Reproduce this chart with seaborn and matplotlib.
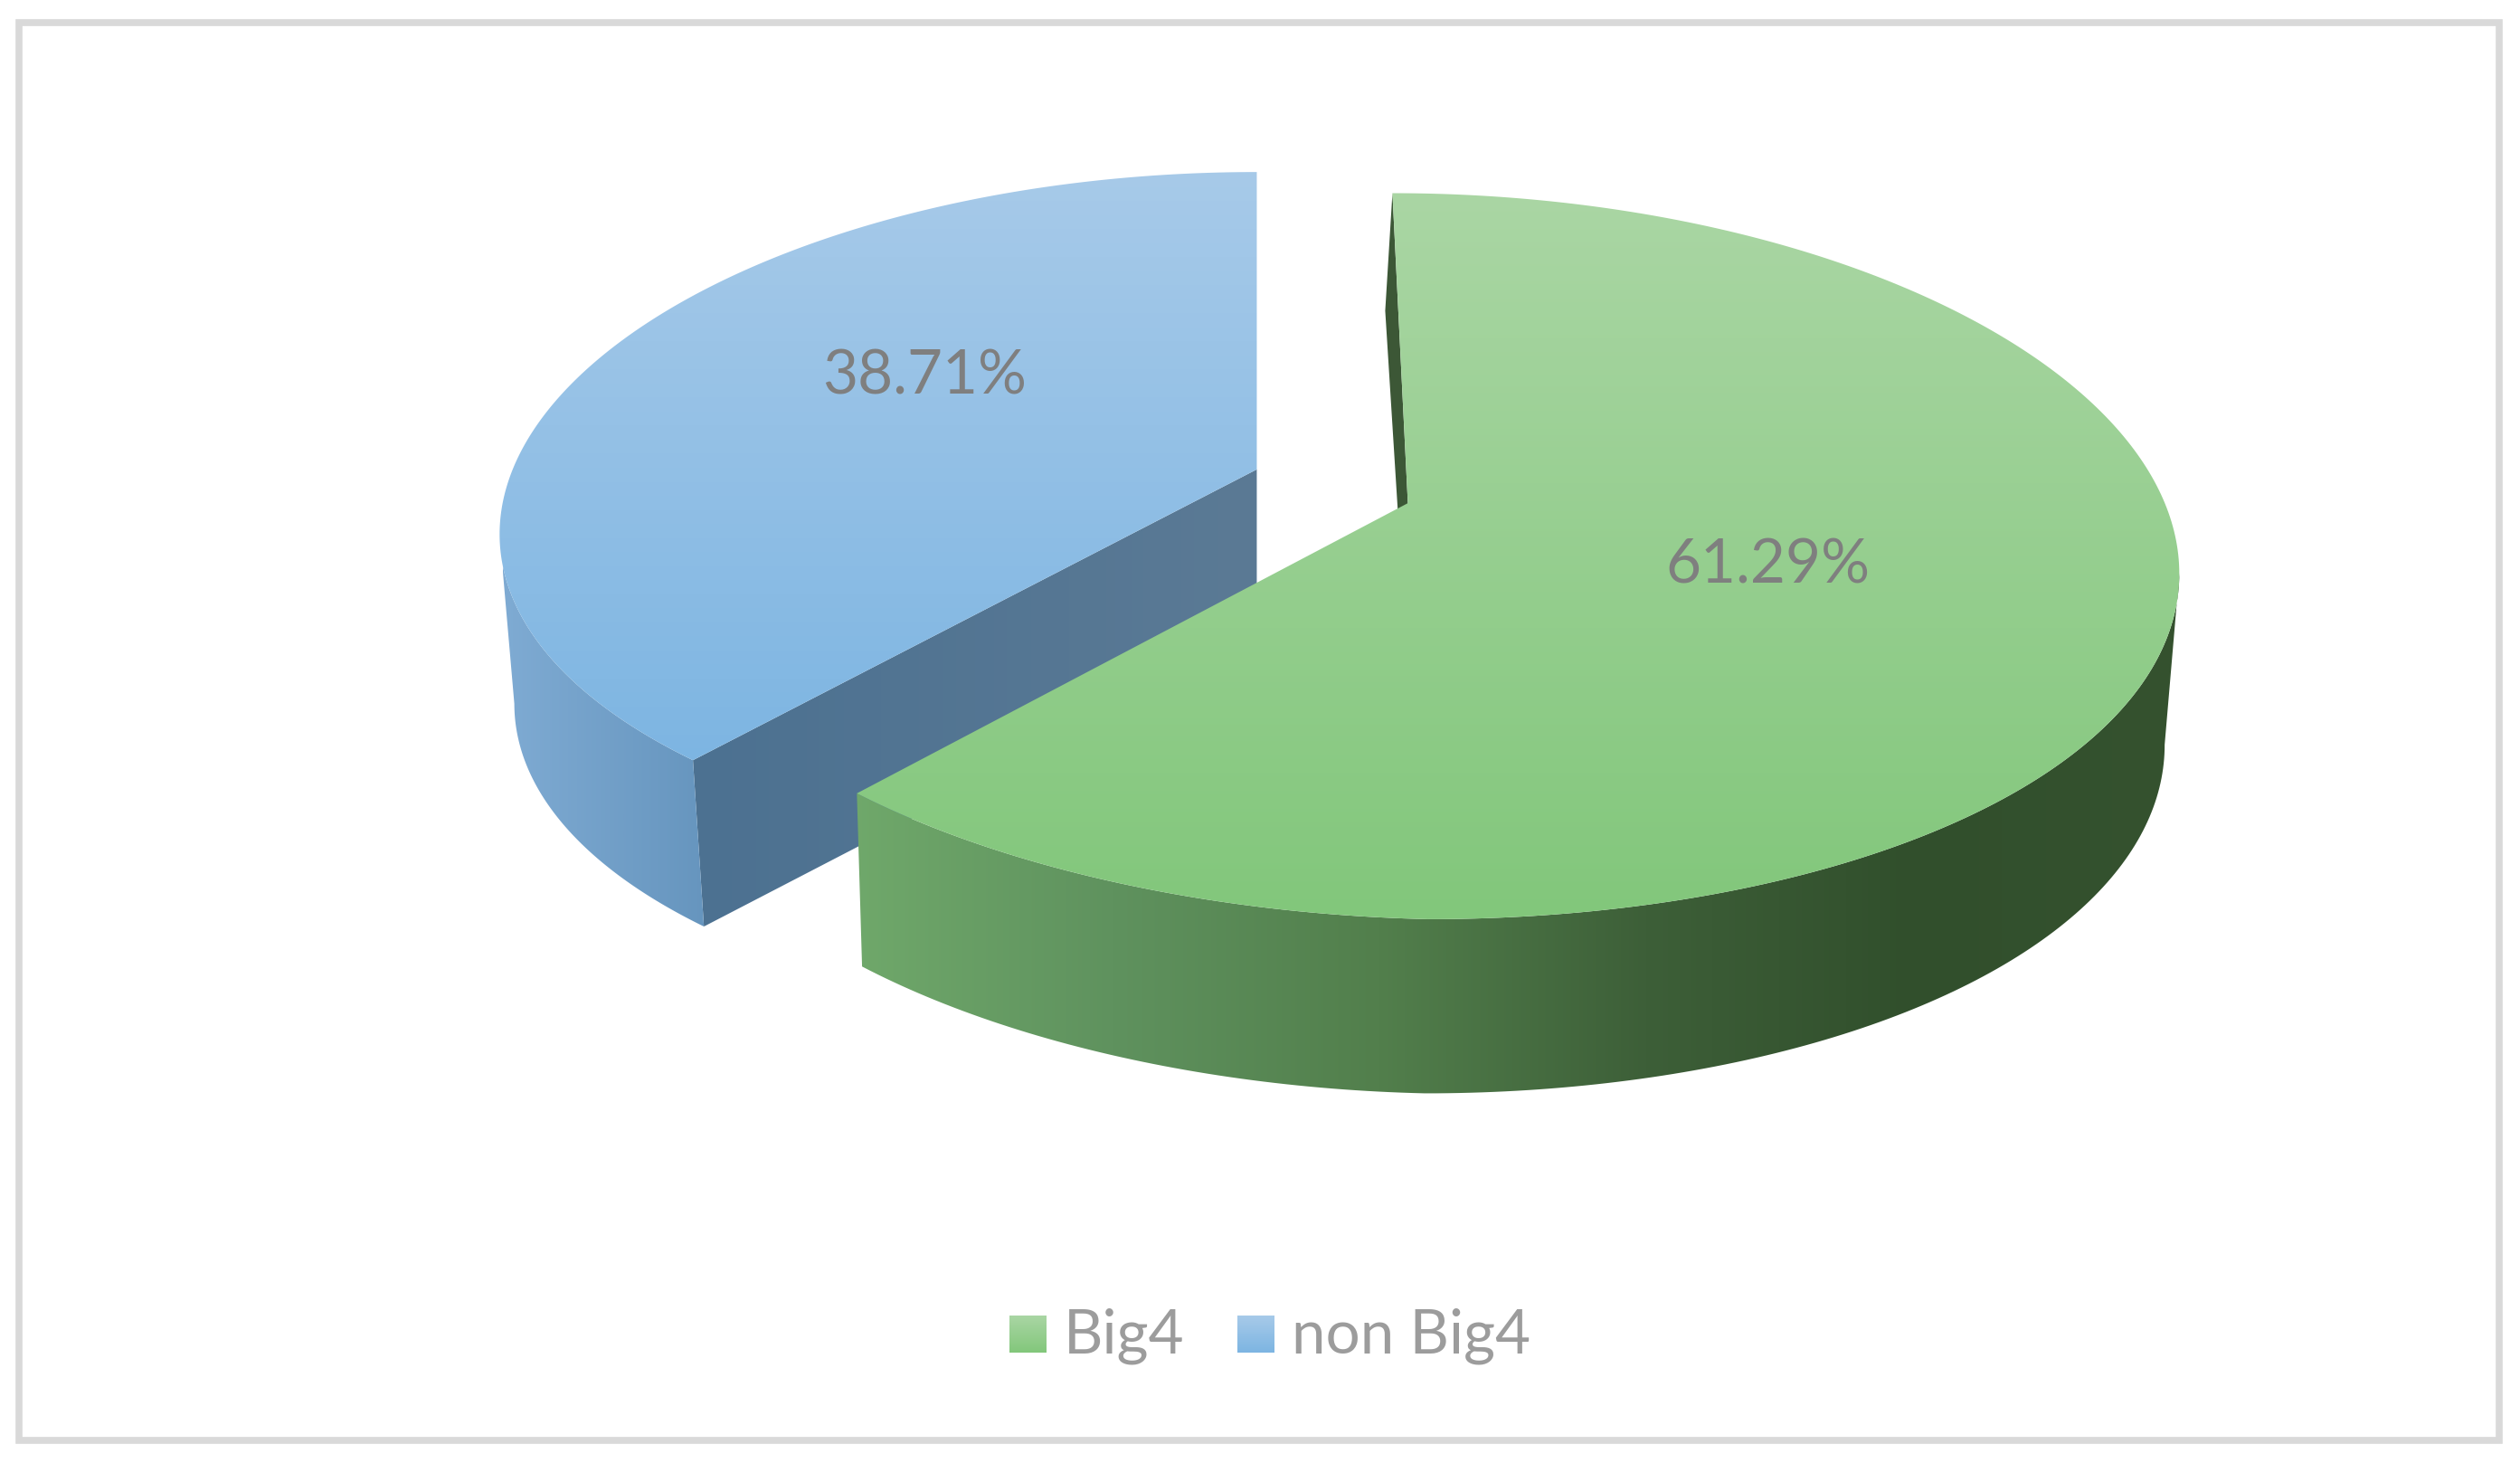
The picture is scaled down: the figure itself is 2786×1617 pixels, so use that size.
import numpy as np
import matplotlib
matplotlib.use('Agg')
import matplotlib.pyplot as plt
import seaborn as sns
from matplotlib.patches import Polygon, Rectangle

# Data
labels = ['Big4', 'non Big4']
shares = [61.29, 38.71]

sns.set_theme(style='white')
plt.rcParams['font.family'] = ['Lato', 'DejaVu Sans']

W, H = 2786, 1617
S = W / 1568
fig = plt.figure(figsize=(W / 100, H / 100), dpi=100, facecolor='white')
ax = fig.add_axes([0, 0, 1, 1])
ax.set_axis_off()

GAMMA_Y = 0.146


def project(deg, apex, rx, ry, skew, gamma_x, lift=0):
    # circle point -> screen point, far side (top of image) is shrunk
    t = np.radians(deg)
    u, v = np.cos(t), np.sin(t)
    d = 1 + GAMMA_Y * v
    return np.column_stack([apex[0] + rx * u / (1 + gamma_x * v) + skew * v / d,
                            apex[1] - ry * v / d + lift * np.minimum(u, 0) / d])


def gradient(colors, extent, verts, zorder, vertical=True):
    pal = np.array(sns.blend_palette(colors, 256))
    img = pal[:, None, :] if vertical else pal[None, :, :]
    clip = Polygon(verts, fc='none', ec='none')
    ax.add_patch(clip)
    im = ax.imshow(img, extent=extent, aspect='auto', origin='upper',
                   interpolation='bilinear', zorder=zorder)
    im.set_clip_path(clip)


# apex, rx, ry, skew, gamma_x, lift in image pixels
green_top = ((876 * S, 313 * S), 471 * S, 221 * S, -11 * S, 0.17, 11 * S)
green_bot = ((874 * S, 419 * S), 464 * S, 223 * S, -11 * S, 0.17, 11 * S)
green_back = ((875 * S, 401 * S), 465 * S, 238 * S, -15 * S, 0.17)
blue_top = ((782 * S, 292 * S), 463 * S, 212 * S, 0, 0.185)
blue_bot = ((782 * S, 398 * S), 454 * S, 209 * S, 0, 0.185)

sweep_green = shares[0] / sum(shares) * 360
sweep_blue = shares[1] / sum(shares) * 360
start_green = 90
start_blue = 90 - sweep_green

green_top_cols = ['#AAD6A4', '#82C77B']
blue_top_cols = ['#A7CAE9', '#7DB5E2']

# blue slice: cut wall, outer wall, top surface
ts = np.linspace(start_blue, start_blue - sweep_blue, 300)
b_top = project(ts, *blue_top)
b_bot = project(ts, *blue_bot)
gradient(['#4C7191', '#5B7A95'], (b_top[0][0], blue_top[0][0], H, 0),
         [b_top[0], blue_top[0], blue_bot[0], b_bot[0]], 1, vertical=False)
# outer wall only runs up to the silhouette, leftmost rim point to leftmost rim point
i_top, i_bot = b_top[:, 0].argmin(), b_bot[:, 0].argmin()
gradient(['#7FABD3', '#6695BE'], (313 * S, 440 * S, H, 0),
         np.vstack([b_top[:i_top + 1], b_bot[:i_bot + 1][::-1]]), 1.1, vertical=False)
gradient(blue_top_cols, (0, W, 475 * S, 107 * S), np.vstack([b_top, blue_top[0]]), 1.2)

# green slice: dark sliver of the back wall shows beside the top surface
ts = np.linspace(start_green, start_green - sweep_green, 300)
g_top = project(ts, *green_top)
g_bot = project(ts, *green_bot)
g_back = project(np.array([start_green]), *green_back)[0]
ax.add_patch(Polygon([g_top[0], green_top[0], green_back[0], g_back], fc='#3C5736', ec='none', zorder=2))
i_top, i_bot = g_top[:, 0].argmax(), g_bot[:, 0].argmax()
gradient(['#70A96B', '#5F925E', '#527F4C', '#3D5F38', '#314F2C', '#35522F'], (525 * S, 1357 * S, H, 0),
         np.vstack([g_top[i_top:], g_bot[i_bot:][::-1]]), 2.1, vertical=False)
gradient(green_top_cols, (0, W, 572 * S, 120 * S), np.vstack([g_top, green_top[0]]), 2.2)

# value labels
ax.text(575 * S, 245 * S, f'{shares[1]:.2f}%', color='#7F7F7F', fontsize=48.5, ha='center', va='baseline', zorder=5)
ax.text(1100 * S, 363 * S, f'{shares[0]:.2f}%', color='#7F7F7F', fontsize=48.5, ha='center', va='baseline', zorder=5)

# legend
legend_y = 1454
box = 41
for x0, x_text, name, cols in [(1116, 1176, labels[0], green_top_cols), (1368, 1428, labels[1], blue_top_cols)]:
    gradient(cols, (x0, x0 + box, legend_y + box, legend_y),
             [(x0, legend_y), (x0 + box, legend_y), (x0 + box, legend_y + box), (x0, legend_y + box)], 3)
    ax.text(x_text, legend_y + box, name, color='#9C9C9C', fontsize=48.5, ha='left', va='baseline', zorder=5)

# frame
ax.add_patch(Rectangle((20.5, 25), 2742, 1567, fc='none', ec='#D9D9D9', lw=5.5, zorder=4))

ax.set_xlim(0, W)
ax.set_ylim(H, 0)
fig.savefig('out.png', dpi=100, facecolor='white')
